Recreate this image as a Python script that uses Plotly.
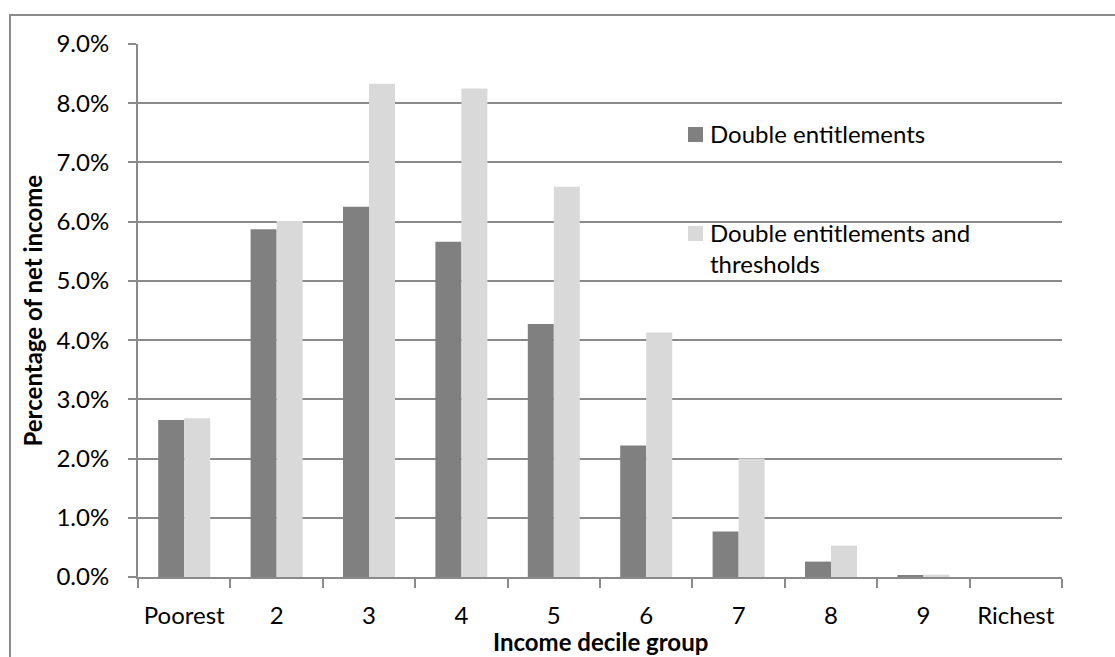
import plotly.graph_objects as go

# Income decile groups and the share of net income for each scenario (percent)
deciles = ["Poorest", "2", "3", "4", "5", "6", "7", "8", "9", "Richest"]
double_entitlements = [2.65, 5.87, 6.25, 5.66, 4.27, 2.22, 0.77, 0.26, 0.02, 0.0]
double_entitlements_thresholds = [2.68, 6.01, 8.33, 8.25, 6.59, 4.13, 2.00, 0.53, 0.04, 0.0]
y_ticks = [0, 1, 2, 3, 4, 5, 6, 7, 8, 9]

series_names = ["Double entitlements", "Double entitlements and<br>thresholds"]
series_colors = ["#808080", "#d9d9d9"]

W, H = 1115, 657
L, R, T, B = 138, 53, 44, 80
PW, PH = W - L - R, H - T - B

FONT = "Lato"
GRID = "#8a8a8a"


def px_x(x):
    return (x - L) / PW


def px_y(y):
    return (H - B - y) / PH


fig = go.Figure()
for name, vals, col in zip(series_names, [double_entitlements, double_entitlements_thresholds], series_colors):
    fig.add_trace(go.Bar(x=deciles, y=vals, name=name, marker=dict(color=col, line=dict(width=0)),
                         showlegend=False))

fig.update_layout(
    width=W, height=H,
    margin=dict(l=L, r=R, t=T, b=B, pad=0),
    paper_bgcolor="white", plot_bgcolor="white",
    barmode="group", bargap=0.437, bargroupgap=0,
    font=dict(family=FONT, size=24, color="black"),
)

fig.update_yaxes(
    range=[0, 9], tickvals=y_ticks, ticktext=[f"{v:.1f}%" for v in y_ticks],
    showgrid=True, gridcolor=GRID, gridwidth=2,
    showline=True, linecolor=GRID, linewidth=2,
    ticks="outside", ticklen=8, tickwidth=2, tickcolor=GRID,
    ticklabelstandoff=14, zeroline=False, fixedrange=True,
)
fig.update_xaxes(
    type="category", tickson="boundaries",
    showline=True, linecolor=GRID, linewidth=2,
    ticks="outside", ticklen=9, tickwidth=2, tickcolor=GRID,
    ticklabelstandoff=16, showgrid=False, fixedrange=True,
)

# chart frame
fig.add_shape(type="rect", xref="paper", yref="paper",
              x0=px_x(10), x1=px_x(1125), y0=px_y(670), y1=px_y(15),
              line=dict(color=GRID, width=2), fillcolor="rgba(0,0,0,0)", layer="below")

# axis titles
fig.add_annotation(text="<b>Income decile group</b>", xref="paper", yref="paper",
                   x=0.5, y=px_y(658), xanchor="center", yanchor="bottom",
                   showarrow=False, font=dict(size=24, family=FONT))
fig.add_annotation(text="<b>Percentage of net income</b>", xref="paper", yref="paper",
                   x=px_x(32), y=0.5, xanchor="center", yanchor="middle", textangle=-90,
                   showarrow=False, font=dict(size=24, family=FONT))

# legend
legend_rows = [(127, 133), (226, 248)]
for (sq_top, text_mid), name, col in zip(legend_rows, series_names, series_colors):
    fig.add_shape(type="rect", xref="paper", yref="paper",
                  x0=px_x(688), x1=px_x(703), y0=px_y(sq_top + 15), y1=px_y(sq_top),
                  line=dict(width=0), fillcolor=col)
    fig.add_annotation(text=name, xref="paper", yref="paper", x=px_x(708), y=px_y(text_mid),
                       xanchor="left", yanchor="middle", align="left", showarrow=False,
                       font=dict(size=24, family=FONT))

fig.write_html("out.html", config={"displayModeBar": False})
